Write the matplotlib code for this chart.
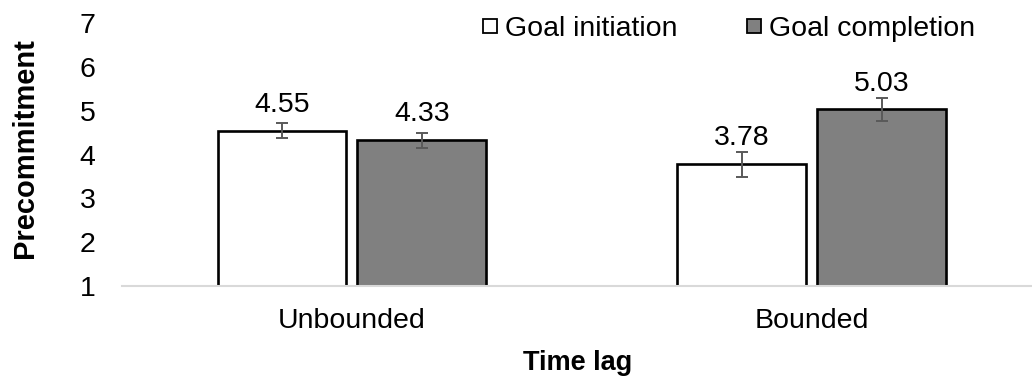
import numpy as np
import matplotlib
matplotlib.use("Agg")
import matplotlib.pyplot as plt
from matplotlib.lines import Line2D

plt.rcParams['font.family'] = ['Liberation Sans', 'DejaVu Sans']

groups = ["Unbounded", "Bounded"]
series = ["Goal initiation", "Goal completion"]
initiation = [4.55, 3.78]
completion = [4.33, 5.03]
initiation_err = [0.17, 0.29]
completion_err = [0.17, 0.27]
yticks = [1, 2, 3, 4, 5, 6, 7]

fs = 20.5
fig = plt.figure(figsize=(10.32, 3.77), dpi=100)
ax = fig.add_axes([122 / 1032, 91 / 377, 910 / 1032, 286 / 377])

x = np.arange(len(groups))
w = 0.28
off = 0.152
base = 1
for vals, errs, col, dx in [(initiation, initiation_err, 'white', -off),
                            (completion, completion_err, '#808080', off)]:
    h = np.array(vals) - base
    ax.bar(x + dx, h, w, bottom=base, color=col, edgecolor='black', linewidth=1.9, zorder=2)
    ax.errorbar(x + dx, vals, yerr=errs, fmt='none', ecolor='#595959',
                elinewidth=1.4, capsize=4.3, capthick=1.4, zorder=3)
    for xi, v in zip(x + dx, vals):
        ax.annotate(f"{v:.2f}", (xi, v), xytext=(0, 13.5), textcoords='offset points',
                    ha='center', va='baseline', fontsize=fs)

ax.set_xlim(-0.5, 1.479)
ax.set_ylim(1, 7.53)
ax.set_yticks(yticks)
ax.set_xticks(x)
ax.set_xticklabels(groups)
ax.tick_params(axis='y', length=0, pad=19, labelsize=fs)
ax.tick_params(axis='x', length=0, pad=15.5, labelsize=fs)
for s in ['top', 'right', 'left']:
    ax.spines[s].set_visible(False)
ax.spines['bottom'].set_color('#d9d9d9')
ax.spines['bottom'].set_linewidth(1.5)

ax.set_ylabel("Precommitment", fontsize=21, fontweight='bold')
ax.set_xlabel("Time lag", fontsize=19.5, fontweight='bold')
ax.yaxis.set_label_coords(-0.091, 0.4825)
ax.xaxis.set_label_coords(0.501, -0.225)

handles = [Line2D([], [], marker='s', linestyle='none', markersize=10.5,
                  markerfacecolor=c, markeredgecolor='black', markeredgewidth=1.3)
           for c in ['white', '#808080']]
ax.legend(handles, series, loc='center right', bbox_to_anchor=(975 / 1032, 1 - 29 / 377),
          bbox_transform=fig.transFigure, ncol=2, frameon=False, fontsize=fs,
          borderpad=0, borderaxespad=0, handletextpad=0.25, columnspacing=2.4,
          handlelength=0.55)

fig.savefig("out.png", dpi=100)
